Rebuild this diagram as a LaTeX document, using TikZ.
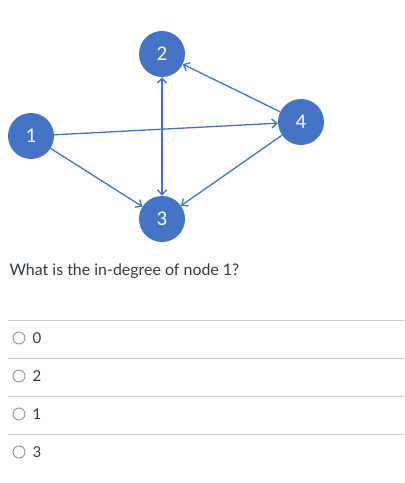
\documentclass[tikz,border=0pt]{standalone}
\usepackage{fontspec}
\setmainfont{Lato}
\newfontfamily\calibri{Carlito}
\usetikzlibrary{arrows.meta}
\definecolor{nodeblue}{HTML}{4472C4}
\definecolor{textgray}{HTML}{2D3B45}
\definecolor{rulegray}{HTML}{C7CDD1}
\definecolor{radiogray}{HTML}{8B969E}

\begin{document}
\begin{tikzpicture}[x=1bp,y=-1bp,
    >={Straight Barb[length=5bp,width=9bp]},
    vertex/.style={circle,fill=nodeblue,minimum size=46bp,inner sep=0pt,
      text=white,font=\calibri\fontsize{21}{23}\selectfont},
    edge/.style={draw=nodeblue,line width=1.3bp},
    radio/.style={circle,draw=radiogray,line width=0.9bp,minimum size=12bp,inner sep=0pt},
    option/.style={anchor=west,text=textgray,font=\fontsize{15}{17}\selectfont}]
    \useasboundingbox (0,0) rectangle (404,483);

    \node[vertex] (n1) at (31,136) {1};
    \node[vertex] (n2) at (162,54) {2};
    \node[vertex] (n3) at (162,219) {3};
    \node[vertex] (n4) at (301,122) {4};

    \draw[edge,->] (n1) -- (n4);
    \draw[edge,->] (n1) -- (n3);
    \draw[edge,->] (n4) -- (n2);
    \draw[edge,->] (n4) -- (n3);
    \draw[edge,<->] (n2) -- (n3);

    \node[anchor=west,text=textgray,font=\fontsize{16}{19}\selectfont]
      (question) at (6,271) {What is the in-degree of node 1?};

    \foreach \y in {320,358,396,434}
      \draw[rulegray,line width=0.8bp] (8,\y) -- (404,\y);

    \foreach \lbl [count=\i] in {0,2,1,3}{
      \node[radio] (radio\i) at (19,300+38*\i) {};
      \node[option] (option\i) at (29,300+38*\i) {\lbl};
    }
\end{tikzpicture}
\end{document}
